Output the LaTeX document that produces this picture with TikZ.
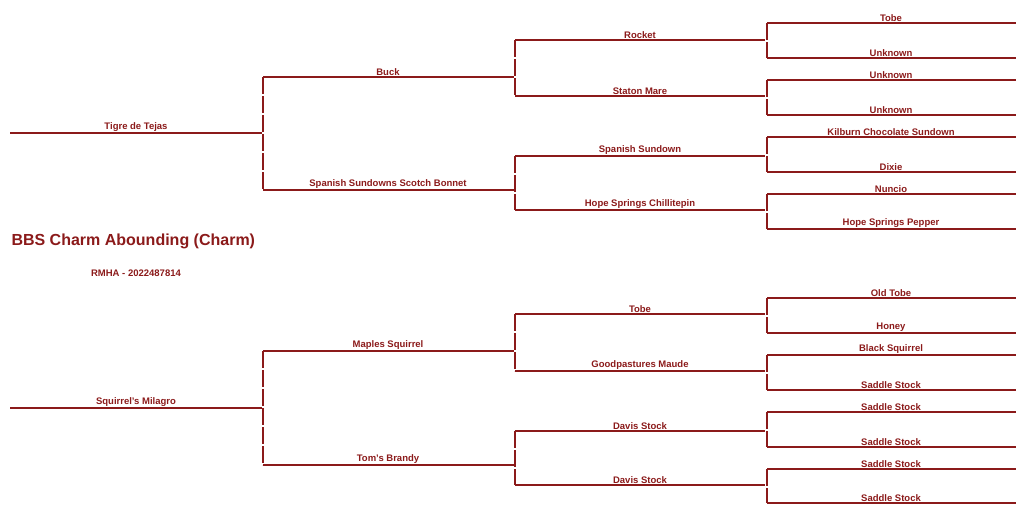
\documentclass[tikz,border=0pt]{standalone}
\usepackage{fontspec}
\setmainfont{Liberation Sans}
\begin{document}
\begin{tikzpicture}[x=1pt,y=-1pt,
  line/.style={draw=maroon,line width=2.4pt},
  vline/.style={draw=maroon,line width=2.4pt,dash pattern=on 17pt off 2pt},
  lab/.style={anchor=south,inner sep=1.5pt,text=maroon,font=\fontsize{9.5}{11}\selectfont\bfseries}]
\definecolor{maroon}{HTML}{8B1A1A}
\useasboundingbox (0,0) rectangle (1024,509);
\node[anchor=west,text=maroon,font=\fontsize{16}{18}\selectfont\bfseries] (title) at (8,241) {BBS Charm Abounding (Charm)};
\node[text=maroon,font=\fontsize{9.5}{11}\selectfont\bfseries] (reg) at (136,273) {RMHA - 2022487814};
% generation 1
\foreach \n/\y/\t in {a/133/Tigre de Tejas, b/408/Squirrel's Milagro}{
  \coordinate (\n L) at (10,\y); \coordinate (\n R) at (262,\y);
  \draw[line] (\n L) -- (\n R);
  \node[lab] (\n t) at (136,\y) {\t};}
% generation 2
\foreach \n/\y/\t in {aa/77/Buck, ab/190/Spanish Sundowns Scotch Bonnet, ba/351/Maples Squirrel, bb/465/Tom's Brandy}{
  \coordinate (\n L) at (263,\y); \coordinate (\n R) at (514,\y);
  \draw[line] (\n L) -- (\n R);
  \node[lab] (\n t) at (388,\y) {\t};}
% generation 3
\foreach \n/\y/\t in {aaa/40/Rocket, aab/96/Staton Mare, aba/156/Spanish Sundown, abb/210/Hope Springs Chillitepin, baa/314/Tobe, bab/371/Goodpastures Maude, bba/431/Davis Stock, bbb/485/Davis Stock}{
  \coordinate (\n L) at (515,\y); \coordinate (\n R) at (765,\y);
  \draw[line] (\n L) -- (\n R);
  \node[lab] (\n t) at (640,\y) {\t};}
% generation 4
\foreach \n/\y/\t in {aaaa/23/Tobe, aaab/58/Unknown, aaba/80/Unknown, aabb/115/Unknown, abaa/137/Kilburn Chocolate Sundown, abab/172/Dixie, abba/194/Nuncio, abbb/229/Hope Springs Pepper, baaa/298/Old Tobe, baab/333/Honey, baba/355/Black Squirrel, babb/390/Saddle Stock, bbaa/412/Saddle Stock, bbab/447/Saddle Stock, bbba/469/Saddle Stock, bbbb/503/Saddle Stock}{
  \coordinate (\n L) at (767,\y); \coordinate (\n R) at (1016,\y);
  \draw[line] (\n L) -- (\n R);
  \node[lab] (\n t) at (891,\y) {\t};}
% brackets
\foreach \p in {a,b}{\draw[vline] (\p aL) -- (\p bL);}
\foreach \p in {aa,ab,ba,bb}{\draw[vline] (\p aL) -- (\p bL);}
\foreach \p in {aaa,aab,aba,abb,baa,bab,bba,bbb}{\draw[vline] (\p aL) -- (\p bL);}
\end{tikzpicture}
\end{document}
